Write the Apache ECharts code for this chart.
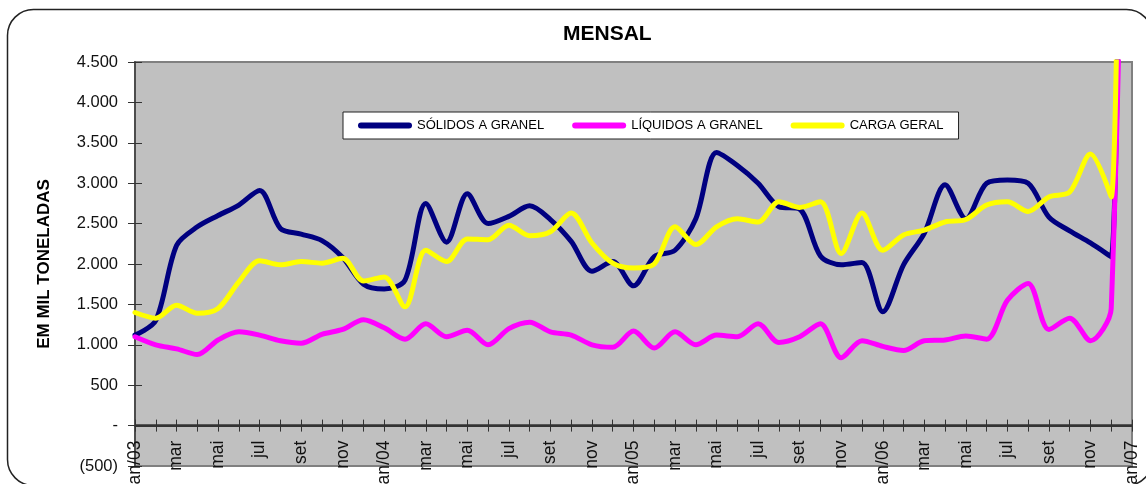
<!DOCTYPE html>
<html>
<head>
<meta charset="utf-8">
<title>MENSAL</title>
<script src="https://cdn.jsdelivr.net/npm/echarts@6/dist/echarts.min.js"></script>
<style>
    html, body { margin: 0; padding: 0; background: #fff; }
    #chart { width: 1146px; height: 484px; }
</style>
</head>
<body>
<div id="chart"></div>
<script>
// meses (jan/03 .. jan/07)
var months = [
    'jan/03','fev','mar','abr','mai','jun','jul','ago','set','out','nov','dez',
    'jan/04','fev','mar','abr','mai','jun','jul','ago','set','out','nov','dez',
    'jan/05','fev','mar','abr','mai','jun','jul','ago','set','out','nov','dez',
    'jan/06','fev','mar','abr','mai','jun','jul','ago','set','out','nov','dez',
    'jan/07'
];

// mil toneladas
var solidos = [
    1120, 1300, 2230, 2460, 2600, 2730, 2910, 2440, 2370, 2290, 2080, 1750,
    1690, 1800, 2750, 2270, 2870, 2500, 2590, 2720, 2550, 2280, 1910, 2030,
    1730, 2090, 2170, 2560, 3380, 3220, 3000, 2710, 2680, 2100, 1990, 2020,
    1410, 1990, 2380, 2980, 2560, 3000, 3040, 3000, 2580, 2410, 2260, 2090,
    29700
];
var liquidos = [
    1100, 1000, 950, 880, 1060, 1160, 1120, 1050, 1020, 1130, 1190, 1310,
    1210, 1070, 1260, 1100, 1180, 1000, 1200, 1280, 1160, 1120, 1000, 970,
    1170, 960, 1160, 1000, 1120, 1100, 1260, 1030, 1100, 1260, 840, 1050,
    980, 930, 1050, 1060, 1110, 1070, 1550, 1760, 1190, 1330, 1050, 1450,
    14500
];
var carga = [
    1400, 1330, 1490, 1390, 1450, 1780, 2040, 1990, 2030, 2010, 2070, 1790,
    1840, 1470, 2170, 2030, 2310, 2300, 2480, 2350, 2400, 2630, 2260, 2010,
    1950, 2000, 2460, 2240, 2460, 2560, 2520, 2770, 2700, 2770, 2130, 2630,
    2170, 2360, 2420, 2520, 2550, 2730, 2770, 2650, 2830, 2890, 3360, 2830,
    32100
];

var seriesNames = ['SÓLIDOS A GRANEL', 'LÍQUIDOS A GRANEL', 'CARGA GERAL'];
var seriesColors = ['#000080', '#FF00FF', '#FFFF00'];

var yMin = -500, yMax = 4500, yStep = 500;

function fmtTon(v){
    if (v === 0) return '-';
    var s = String(Math.abs(v)).replace(/\B(?=(\d{3})+(?!\d))/g, '.');
    return v < 0 ? '(' + s + ')' : s;
}

var font = "'Liberation Sans', Arial, sans-serif";
var myChart = echarts.init(document.getElementById('chart'));

var legendIcon = 'path://M3,0H51A3,3 0 0 1 51,6H3A3,3 0 0 1 3,0Z';

// altura do grid e posicao do zero (eixo x fica no zero)
var gridTop = 62, gridBottom = 18;
var gridH = 484 - gridTop - gridBottom;
var zeroOffset = -gridH * (0 - yMin) / (yMax - yMin);

function lineSeries(i, values){
    var s = {
        name: seriesNames[i],
        type: 'line',
        data: values,
        smooth: 0.3,
        symbol: 'none',
        color: seriesColors[i],
        lineStyle: { width: 5, color: seriesColors[i], cap: 'round', join: 'round' }
    };
    if (i === 0) {
        // linha do eixo x no zero
        s.markLine = {
            silent: true,
            symbol: 'none',
            label: { show: false },
            lineStyle: { color: '#333', width: 2.5, type: 'solid' },
            data: [{ yAxis: 0 }]
        };
    }
    return s;
}

option = {
    animation: false,
    textStyle: { fontFamily: font },
    graphic: [{
        type: 'rect',
        silent: true,
        z: -10,
        shape: { x: 7.5, y: 9.5, width: 1145, height: 476, r: 26 },
        style: { fill: 'none', stroke: '#222', lineWidth: 1.5 }
    }],
    title: {
        text: 'MENSAL',
        left: 558,
        top: 19,
        textStyle: { fontSize: 21, fontWeight: 'bold', color: '#000', fontFamily: font }
    },
    legend: {
        data: seriesNames.map(function(n){ return { name: n, icon: legendIcon }; }),
        left: 343,
        top: 112,
        itemWidth: 54,
        itemHeight: 6,
        itemGap: 28,
        padding: [7, 15, 7, 15],
        backgroundColor: '#fff',
        borderColor: '#222',
        borderWidth: 1,
        textStyle: { fontSize: 13, color: '#000', fontFamily: font }
    },
    grid: {
        left: 135,
        right: 14,
        top: gridTop,
        bottom: gridBottom,
        containLabel: false,
        outerBoundsMode: 'none',
        show: true,
        backgroundColor: '#C0C0C0',
        borderColor: '#808080',
        borderWidth: 2
    },
    xAxis: [{
        type: 'category',
        data: months,
        boundaryGap: false,
        position: 'bottom',
        offset: zeroOffset,
        axisLine: { onZero: false, lineStyle: { color: '#3a3a3a', width: 2 } },
        axisTick: { interval: 0, length: 6, lineStyle: { color: '#333', width: 1 } },
        axisLabel: {
            interval: 1,
            rotate: 90,
            margin: 15,
            fontSize: 17.5,
            color: '#111',
            fontFamily: font
        },
        splitLine: { show: false }
    }, {
        // marcas para dentro (cruzando o eixo)
        type: 'category',
        data: months,
        boundaryGap: false,
        position: 'bottom',
        offset: zeroOffset,
        axisLine: { show: false, onZero: false },
        axisTick: { interval: 0, inside: true, length: 6, lineStyle: { color: '#333', width: 1 } },
        axisLabel: { show: false },
        splitLine: { show: false }
    }],
    yAxis: [{
        type: 'value',
        min: yMin,
        max: yMax,
        interval: yStep,
        name: 'EM MIL TONELADAS',
        nameLocation: 'middle',
        nameRotate: 90,
        nameGap: 82,
        nameTextStyle: { fontSize: 17, fontWeight: 'bold', color: '#000', fontFamily: font },
        axisLine: { show: true, onZero: false, lineStyle: { color: '#4d4d4d', width: 2 } },
        axisTick: { show: true, length: 7, lineStyle: { color: '#333', width: 1 } },
        axisLabel: {
            margin: 17,
            fontSize: 16.5,
            color: '#111',
            fontFamily: font,
            formatter: fmtTon
        },
        splitLine: { show: false }
    }, {
        type: 'value',
        min: yMin,
        max: yMax,
        interval: yStep,
        position: 'left',
        axisLine: { show: false, onZero: false },
        axisTick: { show: true, inside: true, length: 7, lineStyle: { color: '#333', width: 1 } },
        axisLabel: { show: false },
        splitLine: { show: false }
    }],
    series: [
        lineSeries(0, solidos),
        lineSeries(1, liquidos),
        lineSeries(2, carga)
    ]
};

myChart.setOption(option);
</script>
</body>
</html>
